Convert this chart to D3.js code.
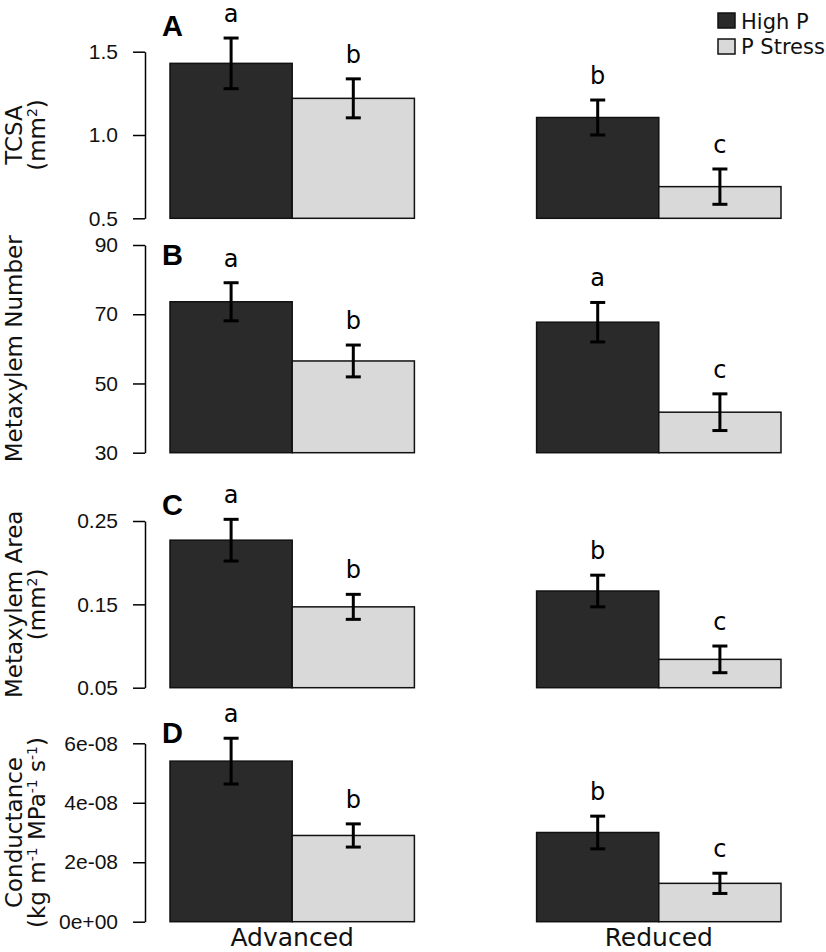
<!DOCTYPE html>
<html>
<head>
<meta charset="utf-8">
<script src="https://cdn.jsdelivr.net/npm/d3@7"></script>
<style>
  html, body { margin: 0; padding: 0; background: #fff; }
  svg { display: block; }
</style>
</head>
<body>
<svg id="chart" width="826" height="952"></svg>
<script>
// ---------------- DATA ----------------
const groups = ["Advanced", "Reduced"];
const seriesNames = ["High P", "P Stress"];
const panelLetters = ["A", "B", "C", "D"];

// order of each array: Advanced-High P, Advanced-P Stress, Reduced-High P, Reduced-P Stress
const tcsaMeans = [1.43, 1.22, 1.105, 0.69];
const tcsaSE = [0.152, 0.117, 0.105, 0.106];
const tcsaSig = ["a", "b", "b", "c"];
const tcsaTicks = [0.5, 1.0, 1.5];
const tcsaTickLabels = ["0.5", "1.0", "1.5"];

const mxNumMeans = [73.6, 56.5, 67.7, 41.7];
const mxNumSE = [5.5, 4.6, 5.7, 5.3];
const mxNumSig = ["a", "b", "a", "c"];
const mxNumTicks = [30, 50, 70, 90];
const mxNumTickLabels = ["30", "50", "70", "90"];

const mxAreaMeans = [0.227, 0.147, 0.166, 0.084];
const mxAreaSE = [0.025, 0.015, 0.019, 0.016];
const mxAreaSig = ["a", "b", "b", "c"];
const mxAreaTicks = [0.05, 0.15, 0.25];
const mxAreaTickLabels = ["0.05", "0.15", "0.25"];

const condMeans = [5.40e-8, 2.90e-8, 3.00e-8, 1.29e-8];
const condSE = [0.77e-8, 0.39e-8, 0.55e-8, 0.34e-8];
const condSig = ["a", "b", "b", "c"];
const condTicks = [0, 2e-8, 4e-8, 6e-8];
const condTickLabels = ["0e+00", "2e-08", "4e-08", "6e-08"];

// ---------------- LAYOUT ----------------
const colors = { "High P": "#2a2a2a", "P Stress": "#d9d9d9" };
const axisX = 145;
const sansR = "'Liberation Sans', Arial, sans-serif";
const sansD = "'DejaVu Sans', sans-serif";

const panels = [
  { letter: panelLetters[0], means: tcsaMeans, se: tcsaSE, sig: tcsaSig, ticks: tcsaTicks, tickLabels: tcsaTickLabels,
    range: [218.3, 51.7], letterY: 36, titleLines: [[["TCSA"]], [["(mm"], ["2", "sup"], [")"]]] },
  { letter: panelLetters[1], means: mxNumMeans, se: mxNumSE, sig: mxNumSig, ticks: mxNumTicks, tickLabels: mxNumTickLabels,
    range: [452.7, 245], letterY: 265, titleLines: [[["Metaxylem Number"]]] },
  { letter: panelLetters[2], means: mxAreaMeans, se: mxAreaSE, sig: mxAreaSig, ticks: mxAreaTicks, tickLabels: mxAreaTickLabels,
    range: [687.7, 521], letterY: 515, titleLines: [[["Metaxylem Area"]], [["(mm"], ["2", "sup"], [")"]]] },
  { letter: panelLetters[3], means: condMeans, se: condSE, sig: condSig, ticks: condTicks, tickLabels: condTickLabels,
    range: [921.7, 743.3], letterY: 743, titleLines: [[["Conductance"]], [["(kg m"], ["-1", "sup"], [" MPa"], ["-1", "sup"], [" s"], ["-1", "sup"], [")"]]] }
];

const svg = d3.select("#chart");

const xGroup = d3.scaleBand().domain(groups).range([170, 781]).paddingInner(1 / 3).paddingOuter(0);
const xSeries = d3.scaleBand().domain(seriesNames).range([0, xGroup.bandwidth()]).padding(0);

panels.forEach(p => {
  const y = d3.scaleLinear().domain([p.ticks[0], p.ticks[p.ticks.length - 1]]).range(p.range);
  const g = svg.append("g");

  const recs = [];
  groups.forEach((grp, gi) => {
    seriesNames.forEach((s, si) => {
      const k = gi * 2 + si;
      recs.push({ grp, s, mean: p.means[k], se: p.se[k], sig: p.sig[k] });
    });
  });

  // bars
  g.selectAll("rect.bar").data(recs).join("rect")
    .attr("class", "bar")
    .attr("x", d => xGroup(d.grp) + xSeries(d.s))
    .attr("width", xSeries.bandwidth())
    .attr("y", d => y(d.mean))
    .attr("height", d => y(p.ticks[0]) - y(d.mean))
    .attr("fill", d => colors[d.s])
    .attr("stroke", "#111")
    .attr("stroke-width", 1.5);

  // error bars
  const cx = d => xGroup(d.grp) + xSeries(d.s) + xSeries.bandwidth() / 2;
  const eb = g.selectAll("g.err").data(recs).join("g").attr("class", "err")
    .attr("stroke", "#000").attr("stroke-width", 3);
  eb.append("line").attr("x1", cx).attr("x2", cx)
    .attr("y1", d => y(d.mean + d.se)).attr("y2", d => y(d.mean - d.se));
  eb.append("line").attr("x1", d => cx(d) - 7.5).attr("x2", d => cx(d) + 7.5)
    .attr("y1", d => y(d.mean + d.se)).attr("y2", d => y(d.mean + d.se));
  eb.append("line").attr("x1", d => cx(d) - 7.5).attr("x2", d => cx(d) + 7.5)
    .attr("y1", d => y(d.mean - d.se)).attr("y2", d => y(d.mean - d.se));

  // significance letters
  g.selectAll("text.sig").data(recs).join("text")
    .attr("class", "sig")
    .attr("x", cx)
    .attr("y", d => y(d.mean + d.se) - 16)
    .attr("text-anchor", "middle")
    .attr("font-family", sansD)
    .attr("font-size", 24)
    .attr("fill", "#000")
    .text(d => d.sig);

  // axis
  const ax = g.append("g").attr("transform", `translate(${axisX},0)`)
    .call(d3.axisLeft(y).tickValues(p.ticks).tickFormat((d, i) => p.tickLabels[i])
      .tickSizeInner(12).tickSizeOuter(0).tickPadding(15));
  ax.select(".domain").attr("stroke", "#000").attr("stroke-width", 1.5);
  ax.selectAll(".tick line").attr("stroke", "#000").attr("stroke-width", 1.5);
  ax.selectAll(".tick text").attr("font-family", sansR).attr("font-size", 21).attr("fill", "#111");

  // panel letter
  g.append("text").attr("x", 162).attr("y", p.letterY)
    .attr("font-family", sansR).attr("font-weight", "bold").attr("font-size", 29)
    .attr("fill", "#000").text(p.letter);

  // y title
  const midY = (p.range[0] + p.range[1]) / 2;
  const baseXs = p.titleLines.length === 1 ? [22] : [22, 45];
  p.titleLines.forEach((line, li) => {
    const t = g.append("text")
      .attr("transform", `translate(${baseXs[li]},${midY}) rotate(-90)`)
      .attr("text-anchor", "middle")
      .attr("font-family", sansD)
      .attr("font-size", 23)
      .attr("fill", "#111");
    line.forEach(part => {
      const ts = t.append("tspan").text(part[0]);
      if (part[1] === "sup") ts.attr("font-size", 14).attr("baseline-shift", "super");
    });
  });
});

// x labels
svg.selectAll("text.xlab").data(groups).join("text")
  .attr("class", "xlab")
  .attr("x", d => xGroup(d) + xGroup.bandwidth() / 2)
  .attr("y", 946)
  .attr("text-anchor", "middle")
  .attr("font-family", sansD)
  .attr("font-size", 25)
  .attr("fill", "#111")
  .text(d => d);

// legend
const leg = svg.append("g");
seriesNames.forEach((s, i) => {
  leg.append("rect").attr("x", 718).attr("y", 13 + i * 26).attr("width", 17).attr("height", 15)
    .attr("fill", colors[s]).attr("stroke", "#111").attr("stroke-width", 1.5);
  leg.append("text").attr("x", 741).attr("y", 28.5 + i * 25)
    .attr("font-family", sansD).attr("font-size", 21).attr("fill", "#111").text(s);
});
</script>
</body>
</html>
